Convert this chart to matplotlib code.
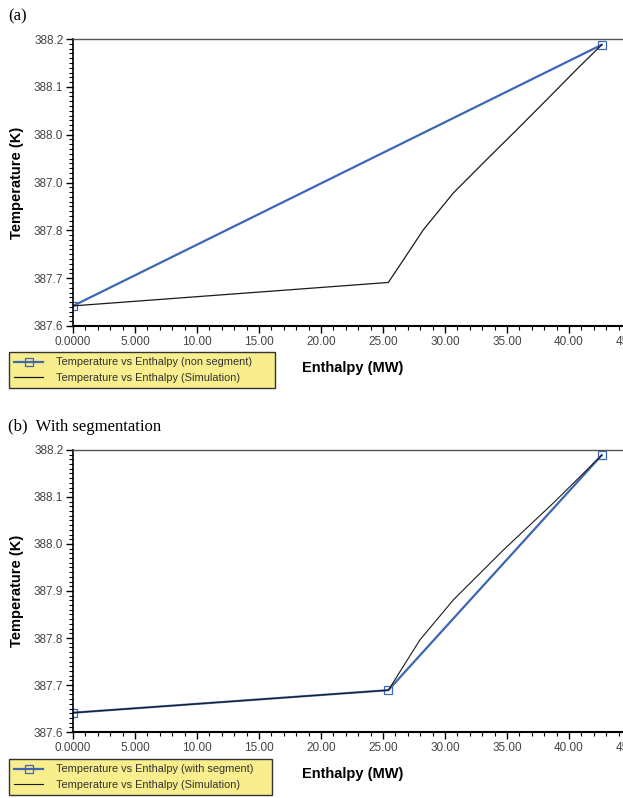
import numpy as np
from matplotlib import pyplot as plt
from matplotlib.ticker import MultipleLocator, FixedLocator

# values
enthalpy_nonseg = [0.0, 42.64]
temp_nonseg = [387.642, 388.188]

enthalpy_sim_a = [0.0, 25.43, 26.64, 28.25, 30.67, 33.36, 35.78, 38.2, 40.6, 42.64]
temp_sim_a = [387.642, 387.691, 387.738, 387.801, 387.878, 387.948, 388.010, 388.073, 388.136, 388.188]

enthalpy_seg = [0.0, 25.43, 42.64]
temp_seg = [387.641, 387.689, 388.189]

enthalpy_sim_b = [0.0, 25.43, 27.98, 30.67, 34.7, 38.73, 42.64]
temp_sim_b = [387.641, 387.689, 387.796, 387.881, 387.987, 388.087, 388.189]

x_ticks = [0, 5, 10, 15, 20, 25, 30, 35, 40, 45]
x_ticklabels = ['0.0000', '5.000', '10.00', '15.00', '20.00', '25.00',
                '30.00', '35.00', '40.00', '45.00']
y_ticks = [387.6, 387.7, 387.8, 387.9, 388.0, 388.1, 388.2]
y_labels_a = ['387.6', '387.7', '387.8', '387.0', '388.0', '388.1', '388.2']
y_labels_b = ['387.6', '387.7', '387.8', '387.9', '388.0', '388.1', '388.2']

blue = '#3d66b5'
plt.rcParams['font.family'] = ['Liberation Sans', 'DejaVu Sans']

fig = plt.figure(figsize=(6.23, 7.98), dpi=100)


def style_axes(ax, ylabels):
    ax.set_xlim(0, 45)
    ax.set_ylim(387.6, 388.2)
    ax.xaxis.set_major_locator(FixedLocator(x_ticks))
    ax.set_xticklabels(x_ticklabels)
    ax.xaxis.set_minor_locator(MultipleLocator(1))
    ax.yaxis.set_major_locator(FixedLocator(y_ticks))
    ax.set_yticklabels(ylabels)
    ax.yaxis.set_minor_locator(MultipleLocator(0.01))
    ax.tick_params(axis='both', which='major', direction='out', length=5,
                   width=1, labelsize=8.5, labelcolor='#444444', pad=2)
    ax.tick_params(axis='both', which='minor', direction='out', length=3,
                   width=0.8)
    ax.spines['right'].set_visible(False)
    ax.spines['top'].set_color('#555555')
    ax.spines['top'].set_linewidth(1.0)
    ax.spines['left'].set_linewidth(1.2)
    ax.spines['bottom'].set_linewidth(1.5)
    ax.set_ylabel('Temperature (K)', fontsize=10.5, fontweight='bold', labelpad=7)


# (a) non segment
ax1 = fig.add_axes([0.1172, 0.5915, 0.8956, 0.3596])
ax1.plot(enthalpy_nonseg, temp_nonseg, color=blue, lw=1.6, marker='s',
         markersize=6, markerfacecolor='none', markeredgewidth=0.9,
         label='Temperature vs Enthalpy (non segment)')
ax1.plot(enthalpy_sim_a, temp_sim_a, color='#1a1a1a', lw=0.9,
         label='Temperature vs Enthalpy (Simulation)')
style_axes(ax1, y_labels_a)

# (b) with segmentation
ax2 = fig.add_axes([0.1172, 0.0827, 0.8956, 0.3534])
ax2.plot(enthalpy_seg, temp_seg, color=blue, lw=1.6, marker='s',
         markersize=6, markerfacecolor='none', markeredgewidth=0.9,
         label='Temperature vs Enthalpy (with segment)')
ax2.plot(enthalpy_sim_b, temp_sim_b, color='#1a1a1a', lw=0.8,
         label='Temperature vs Enthalpy (Simulation)')
style_axes(ax2, y_labels_b)

# legends in yellow boxes below each plot (pixel box: left, top, width, height)
for ax, (x0, y0, w, h) in [(ax1, (9, 352, 266, 39)), (ax2, (9, 759, 263, 38))]:
    leg = ax.legend(loc='upper left',
                    bbox_to_anchor=(x0 / 623, 1 - (y0 + h) / 798, w / 623, h / 798),
                    bbox_transform=fig.transFigure, mode='expand',
                    fontsize=7.9, frameon=True, fancybox=False,
                    facecolor='#f8ee8e', edgecolor='#333333', framealpha=1,
                    handlelength=2.6, handletextpad=1.2, borderpad=0.5,
                    labelspacing=0.5, borderaxespad=0)
    leg.get_frame().set_linewidth(1.0)
    for t in leg.get_texts():
        t.set_color('#333333')

fig.text(302 / 623, 1 - 368 / 798, 'Enthalpy (MW)', fontsize=10.5,
         fontweight='bold', va='center', ha='left')
fig.text(302 / 623, 1 - 774 / 798, 'Enthalpy (MW)', fontsize=10.5,
         fontweight='bold', va='center', ha='left')

fig.text(8 / 623, 1 - 16 / 798, '(a)', fontsize=12, family='Liberation Serif',
         va='center', ha='left')
fig.text(8 / 623, 1 - 427 / 798, '(b)  With segmentation', fontsize=12,
         family='Liberation Serif', va='center', ha='left')

fig.savefig('out.png', dpi=100)
